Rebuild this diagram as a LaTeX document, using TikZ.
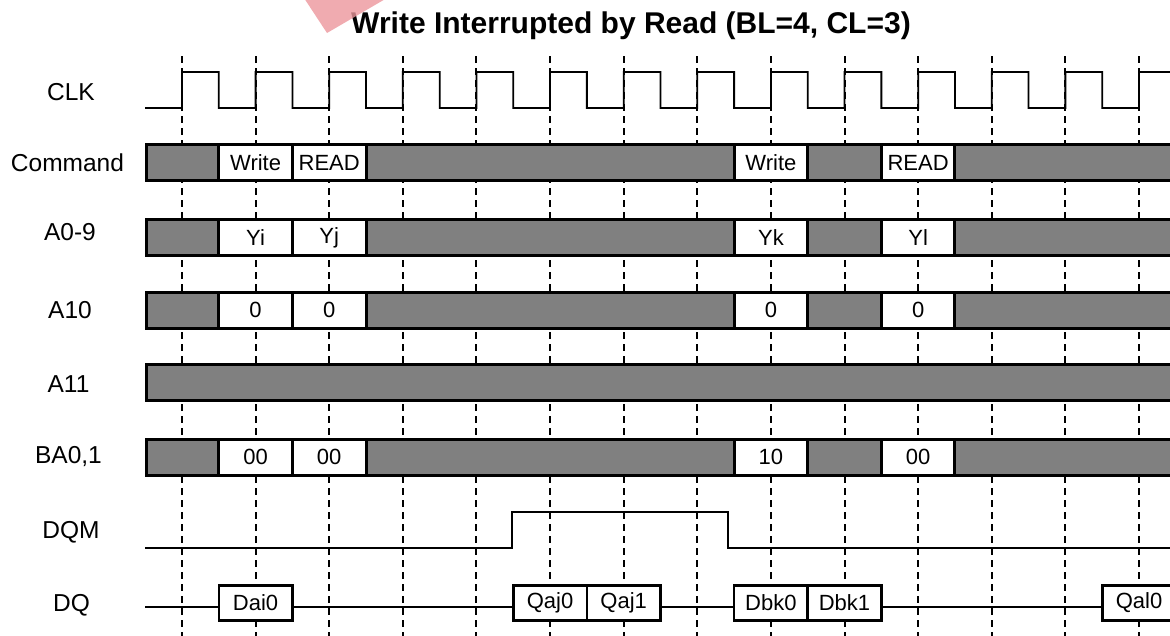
\documentclass[tikz,border=0pt]{standalone}
\usepackage{fontspec}
\setmainfont{Liberation Sans}
\definecolor{busgray}{RGB}{128,128,128}
\definecolor{wmpink}{RGB}{236,150,156}
\begin{document}
\begin{tikzpicture}[x=1pt,y=-1pt,
  lbl/.style={font=\fontsize{24.5}{28}\selectfont, anchor=center, inner sep=0pt},
  cell/.style={draw, line width=3pt, fill=white, minimum width=73.6pt, minimum height=36pt, inner sep=0pt, font=\fontsize{22}{26}\selectfont},
  dqbox/.style={draw, line width=2.6pt, fill=white, minimum width=73.6pt, minimum height=35.5pt, inner sep=0pt, font=\fontsize{22}{26}\selectfont},
  bus/.style={draw, line width=3pt, fill=busgray},
  gridline/.style={line width=2pt, dash pattern=on 7pt off 5pt},
  sig/.style={line width=1.8pt},
]
\useasboundingbox (0,0) rectangle (1170,635);
\pgfmathsetmacro{\P}{73.615}

% dashed clock grid
\foreach \k in {0,...,13} {
  \draw[gridline] ({182+\k*\P},56) -- ({182+\k*\P},640);
}

% title
\node[font=\bfseries\fontsize{30}{34}\selectfont, anchor=base, inner sep=0pt] (title) at (631,33) {Write Interrupted by Read (BL=4, CL=3)};
\fill[wmpink, opacity=0.8] (304,-2) -- (387,-2) -- (327,33) -- cycle;

% labels
\node[lbl] (lclk) at (71,92) {CLK};
\node[lbl] (lcmd) at (67.5,163) {Command};
\node[lbl] (la09) at (70,232) {A0-9};
\node[lbl] (la10) at (70,310) {A10};
\node[lbl] (la11) at (68.5,384) {A11};
\node[lbl] (lba) at (68.5,457) {BA0,1};
\node[lbl] (ldqm) at (71,532) {DQM};
\node[lbl] (ldq) at (71.5,605) {DQ};

% clock
\draw[sig] (145,108) -- (182,108)
  \foreach \k in {0,...,12} {
    -- ({182+\k*\P},72) -- ({182+\k*\P+\P/2},72) -- ({182+\k*\P+\P/2},108) -- ({182+(\k+1)*\P},108)
  }
  -- (1139,72) -- (1175,72);

% bus bars
\foreach \c in {162.5,237.5,310,382,457} {
  \draw[bus] (146.5,{\c-18}) rectangle (1185,{\c+18});
}

% Command
\node[cell] (cw1) at ({182+1*\P},162.5) {Write};
\node[cell] (cr1) at ({182+2*\P},162.5) {READ};
\node[cell] (cw2) at ({182+8*\P},162.5) {Write};
\node[cell] (cr2) at ({182+10*\P},162.5) {READ};
% A0-9
\node[cell] (ai) at ({182+1*\P},237.5) {Yi};
\node[cell] (aj) at ({182+2*\P},237.5) {Yj};
\node[cell] (ak) at ({182+8*\P},237.5) {Yk};
\node[cell] (al) at ({182+10*\P},237.5) {Yl};
% A10
\node[cell] (t1) at ({182+1*\P},310) {0};
\node[cell] (t2) at ({182+2*\P},310) {0};
\node[cell] (t3) at ({182+8*\P},310) {0};
\node[cell] (t4) at ({182+10*\P},310) {0};
% BA0,1
\node[cell] (b1) at ({182+1*\P},457) {00};
\node[cell] (b2) at ({182+2*\P},457) {00};
\node[cell] (b3) at ({182+8*\P},457) {10};
\node[cell] (b4) at ({182+10*\P},457) {00};

% DQM
\draw[sig] (145,548) -- (512,548) -- (512,512) -- (728,512) -- (728,548) -- (1175,548);

% DQ
\draw[sig] (145,607) -- (1175,607);
\node[dqbox] (dai0) at ({182+1*\P},603) {Dai0};
\node[dqbox] (qaj0) at ({182+5*\P},603) {Qaj0};
\node[dqbox] (qaj1) at ({182+6*\P},603) {Qaj1};
\node[dqbox] (dbk0) at ({182+8*\P},603) {Dbk0};
\node[dqbox] (dbk1) at ({182+9*\P},603) {Dbk1};
\node[dqbox] (qal0) at ({182+13*\P},603) {Qal0};
\end{tikzpicture}
\end{document}
